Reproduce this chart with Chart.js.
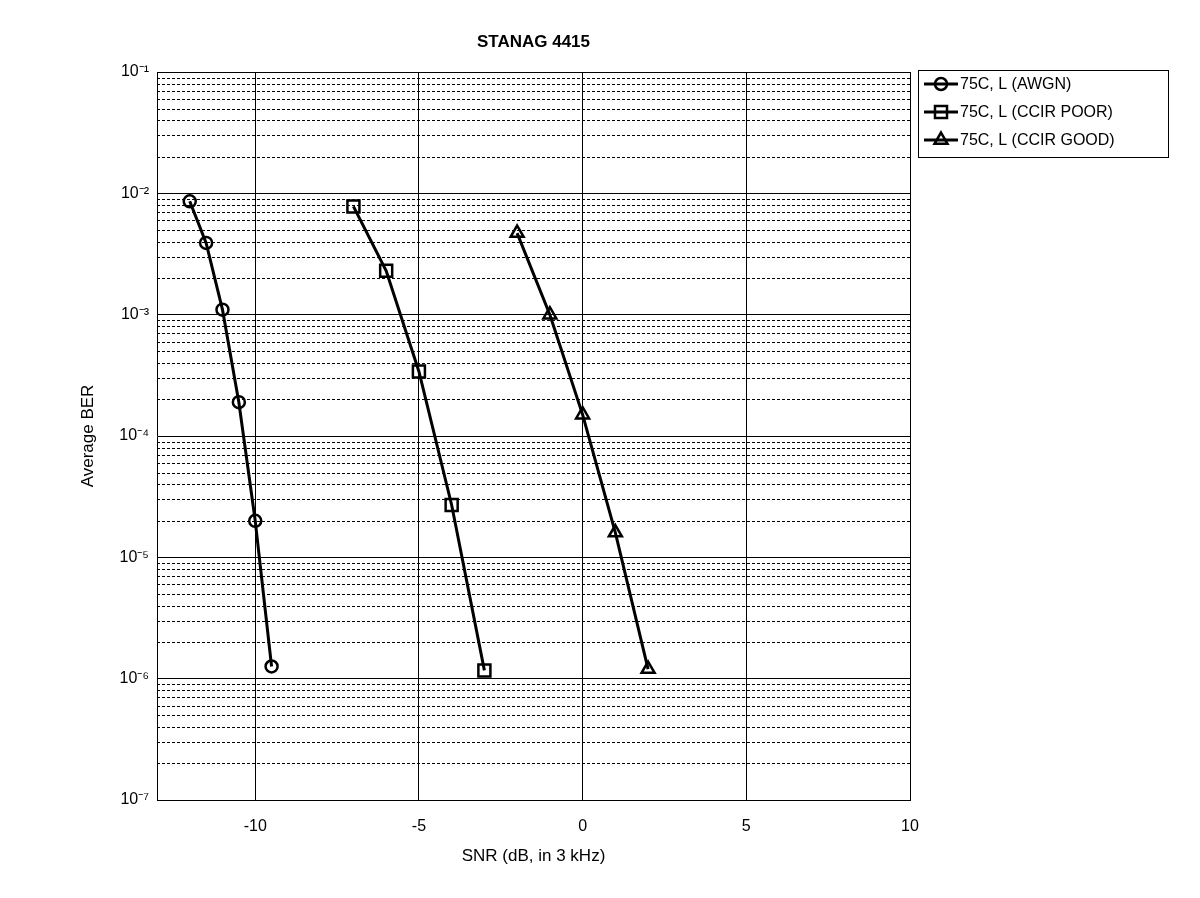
<!DOCTYPE html>
<html><head><meta charset="utf-8">
<script src="https://cdn.jsdelivr.net/npm/chart.js@4"></script>
<style>html,body{margin:0;padding:0;background:#fff}#c{display:block}</style>
</head><body>
<canvas id="c" width="1200" height="898"></canvas>
<script>
const chartTitle = "STANAG 4415";
const xLabel = "SNR (dB, in 3 kHz)";
const yLabel = "Average BER";
const xTicks = [-10, -5, 0, 5, 10];
const seriesNames = ["75C, L (AWGN)", "75C, L (CCIR POOR)", "75C, L (CCIR GOOD)"];
const awgnX = [-12, -11.5, -11, -10.5, -10, -9.5];
const awgnY = [8.6e-3, 3.9e-3, 1.1e-3, 1.9e-4, 2.0e-5, 1.26e-6];
const poorX = [-7, -6, -5, -4, -3];
const poorY = [7.8e-3, 2.3e-3, 3.4e-4, 2.7e-5, 1.17e-6];
const goodX = [-2, -1, 0, 1, 2];
const goodY = [4.7e-3, 1.0e-3, 1.5e-4, 1.6e-5, 1.2e-6];
const styles = ['circle', 'rect', 'triangle'];
const radii = [6, 8.5, 7.5];
const F = "'Liberation Sans', Arial, sans-serif";
const sup = {'-':'⁻','0':'⁰','1':'¹','2':'²','3':'³','4':'⁴','5':'⁵','6':'⁶','7':'⁷','8':'⁸','9':'⁹'};

function mk(xs, ys, i) {
  return {label: seriesNames[i], data: xs.map((x, k) => ({x, y: ys[k]})),
    borderColor: '#000', borderWidth: 3, pointStyle: styles[i], pointRadius: radii[i],
    pointBackgroundColor: 'rgba(255,255,255,0)', pointBorderColor: '#000', pointBorderWidth: 2.5, tension: 0};
}
function isMajor(v) { const l = Math.log10(v); return Math.abs(l - Math.round(l)) < 1e-6; }

const plug = {
  id: 'extra',
  beforeDatasetsDraw(ch) {
    const c = ch.ctx, a = ch.chartArea, y = ch.scales.y;
    c.save(); c.strokeStyle = '#000'; c.lineWidth = 1; c.setLineDash([3, 2]);
    for (let e = -7; e < -1; e++) for (let m = 2; m <= 9; m++) {
      const p = Math.round(y.getPixelForValue(m * Math.pow(10, e))) + 0.5;
      c.beginPath(); c.moveTo(a.left, p); c.lineTo(a.right, p); c.stroke();
    }
    c.restore();
  },
  afterDraw(ch) {
    const c = ch.ctx, a = ch.chartArea;
    c.save(); c.fillStyle = '#000'; c.textAlign = 'center'; c.textBaseline = 'middle';
    c.font = 'bold 17px ' + F; c.fillText(chartTitle, (a.left + a.right) / 2, 42);
    c.font = '17px ' + F; c.fillText(xLabel, (a.left + a.right) / 2, 856);
    c.translate(88, (a.top + a.bottom) / 2); c.rotate(-Math.PI / 2); c.fillText(yLabel, 0, 0);
    c.restore();
    c.save(); c.strokeStyle = '#000'; c.lineWidth = 1; c.fillStyle = '#fff';
    c.fillRect(918, 70, 250, 87); c.strokeRect(918.5, 70.5, 250, 87);
    ch.data.datasets.forEach((d, i) => {
      const yy = 84 + i * 28;
      c.strokeStyle = '#000'; c.lineWidth = 3; c.beginPath(); c.moveTo(924, yy); c.lineTo(958, yy); c.stroke();
      c.lineWidth = 2.5; c.fillStyle = 'rgba(255,255,255,0)';
      Chart.helpers.drawPoint(c, {pointStyle: styles[i], radius: radii[i], rotation: 0, borderWidth: 2.5}, 941, yy);
      c.fillStyle = '#000'; c.font = '16px ' + F; c.textAlign = 'left'; c.textBaseline = 'middle';
      c.fillText(d.label, 960, yy + 1);
    });
    c.restore();
  }
};

new Chart(document.getElementById('c'), {
  type: 'line',
  data: {datasets: [mk(awgnX, awgnY, 0), mk(poorX, poorY, 1), mk(goodX, goodY, 2)]},
  options: {
    responsive: false, animation: false, devicePixelRatio: 1,
    layout: {padding: {left: 0, right: 290, top: 72, bottom: 0}},
    plugins: {legend: {display: false}, title: {display: false}, tooltip: {enabled: false}},
    scales: {
      x: {type: 'linear', min: -13, max: 10,
        afterBuildTicks(s) { s.ticks = xTicks.map(v => ({value: v})); },
        afterFit(s) { s.height = 98; },
        ticks: {color: '#000', font: {size: 16, family: F}, padding: 17, maxRotation: 0},
        grid: {color: '#000', lineWidth: 1, drawTicks: false},
        border: {color: '#000', width: 1}},
      y: {type: 'logarithmic', min: 1e-7, max: 1e-1,
        afterBuildTicks(s) {
          const t = [];
          for (let e = -7; e < -1; e++) for (let m = 1; m <= 9; m++) t.push({value: m * Math.pow(10, e)});
          t.push({value: 1e-1}); s.ticks = t;
        },
        afterFit(s) { s.width = 157; },
        ticks: {color: '#000', font: {size: 16, family: F}, autoSkip: false, padding: 8,
          callback(v) { return isMajor(v) ? '10' + String(Math.round(Math.log10(v))).split('').map(ch => sup[ch]).join('') : ''; }},
        grid: {color: ctx => (ctx.tick && isMajor(ctx.tick.value)) ? '#000' : 'rgba(0,0,0,0)', lineWidth: 1, drawTicks: false},
        border: {color: '#000', width: 1}}
    }
  },
  plugins: [plug]
});
</script>
</body></html>
